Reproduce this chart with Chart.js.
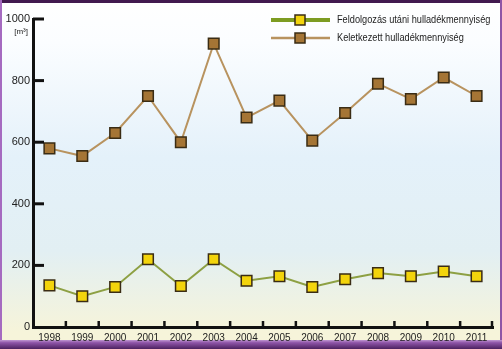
<!DOCTYPE html>
<html>
<head>
<meta charset="utf-8">
<script src="https://cdn.jsdelivr.net/npm/chart.js@4/dist/chart.umd.min.js"></script>
<style>
  html, body { margin: 0; padding: 0; background: #fff; }
  #wrap { width: 502px; height: 349px; position: relative; }
</style>
</head>
<body>
<div id="wrap"><canvas id="c" width="502" height="349"></canvas></div>
<script>
// yearly waste amounts, m3
var years = ['1998', '1999', '2000', '2001', '2002', '2003', '2004',
             '2005', '2006', '2007', '2008', '2009', '2010', '2011'];
var processed = [135, 100, 130, 220, 133, 220, 150, 165, 130, 155, 175, 165, 180, 165];
var generated = [580, 555, 630, 750, 600, 920, 680, 735, 605, 695, 790, 740, 810, 750];
var yTicks = [0, 200, 400, 600, 800, 1000];

var LABEL_PROCESSED = 'Feldolgozás utáni hulladékmennyiség';
var LABEL_GENERATED = 'Keletkezett hulladékmennyiség';

var GREEN = '#8da043', GREEN_LEG = '#7d9c22', YELLOW = '#f3d40c';
var TAN = '#b8935f', BROWN = '#a57535', EDGE = '#3a2c14';
var AXIS = '#111';

// background gradient + purple frame
var backdrop = {
  id: 'backdrop',
  beforeDraw: function (chart) {
    var ctx = chart.ctx, w = chart.width, h = chart.height;
    ctx.save();
    var g = ctx.createLinearGradient(0, 0, 0, h);
    g.addColorStop(0.0, '#ffffff');
    g.addColorStop(0.12, '#fbfdff');
    g.addColorStop(0.45, '#e4f1fa');
    g.addColorStop(0.72, '#e2eff3');
    g.addColorStop(0.95, '#f6f4da');
    ctx.fillStyle = g;
    ctx.fillRect(0, 0, w, h);

    ctx.fillStyle = '#42194f';
    ctx.fillRect(0, 0, w, 3);
    ctx.fillStyle = '#a56ac0';
    ctx.fillRect(0, 0, 2, h);
    ctx.fillStyle = '#8e55a6';
    ctx.fillRect(w - 2, 0, 2, h);
    var b = ctx.createLinearGradient(0, h - 9, 0, h);
    b.addColorStop(0, '#c198d2');
    b.addColorStop(0.3, '#8f55a8');
    b.addColorStop(1, '#4c2160');
    ctx.fillStyle = b;
    ctx.fillRect(0, h - 9, w, 9);
    ctx.restore();
  }
};

// inward tick marks, unit label and the line+marker legend
var decor = {
  id: 'decor',
  afterDraw: function (chart) {
    var ctx = chart.ctx, ca = chart.chartArea;
    var ys = chart.scales.y, xs = chart.scales.x;
    ctx.save();
    ctx.strokeStyle = AXIS;
    ctx.lineWidth = 3;
    yTicks.forEach(function (v) {
      if (v === 0) return;
      var py = ys.getPixelForValue(v);
      ctx.beginPath();
      ctx.moveTo(ca.left, py);
      ctx.lineTo(ca.left + 11, py);
      ctx.stroke();
    });
    ctx.lineWidth = 2.5;
    for (var i = 1; i <= years.length; i++) {
      var px = (xs.getPixelForValue(i - 1) + xs.getPixelForValue(i)) / 2;
      if (i === years.length) px = ca.right - 1;
      ctx.beginPath();
      ctx.moveTo(px, ca.bottom);
      ctx.lineTo(px, ca.bottom - 6);
      ctx.stroke();
    }

    ctx.fillStyle = '#222';
    ctx.font = '8px "Liberation Sans", Arial, sans-serif';
    ctx.textAlign = 'right';
    ctx.textBaseline = 'middle';
    ctx.fillText('[m³]', 28, 32);

    var rows = [
      { y: 20, line: GREEN_LEG, lw: 4, fill: YELLOW, text: LABEL_PROCESSED },
      { y: 38, line: TAN, lw: 2.5, fill: BROWN, text: LABEL_GENERATED }
    ];
    rows.forEach(function (r) {
      ctx.strokeStyle = r.line;
      ctx.lineWidth = r.lw;
      ctx.beginPath();
      ctx.moveTo(271, r.y);
      ctx.lineTo(330, r.y);
      ctx.stroke();
      ctx.fillStyle = r.fill;
      ctx.strokeStyle = EDGE;
      ctx.lineWidth = 1.5;
      ctx.fillRect(295, r.y - 5, 10, 10);
      ctx.strokeRect(295, r.y - 5, 10, 10);
      // condensed legend text
      ctx.save();
      ctx.translate(337, r.y);
      ctx.scale(0.92, 1);
      ctx.fillStyle = '#222';
      ctx.font = '10px "Liberation Sans", Arial, sans-serif';
      ctx.textAlign = 'left';
      ctx.fillText(r.text, 0, 0);
      ctx.restore();
    });
    ctx.restore();
  }
};

new Chart(document.getElementById('c'), {
  type: 'line',
  data: {
    labels: years,
    datasets: [{
      label: LABEL_PROCESSED,
      data: processed,
      borderColor: GREEN,
      borderWidth: 2,
      pointStyle: 'rect',
      pointRadius: 7.5,
      pointBackgroundColor: YELLOW,
      pointBorderColor: EDGE,
      pointBorderWidth: 1.5,
      tension: 0,
      clip: false
    }, {
      label: LABEL_GENERATED,
      data: generated,
      borderColor: TAN,
      borderWidth: 2,
      pointStyle: 'rect',
      pointRadius: 7.5,
      pointBackgroundColor: BROWN,
      pointBorderColor: EDGE,
      pointBorderWidth: 1.5,
      tension: 0,
      clip: false
    }]
  },
  options: {
    responsive: false,
    animation: false,
    events: [],
    layout: { padding: { top: 19, right: 2, left: 0, bottom: 0 } },
    plugins: { legend: { display: false }, tooltip: { enabled: false } },
    scales: {
      x: {
        offset: true,
        grid: { display: false, drawTicks: false },
        border: { display: true, color: AXIS, width: 3 },
        ticks: {
          color: '#222',
          padding: 5,
          maxRotation: 0,
          autoSkip: false,
          font: { family: '"Liberation Sans", Arial, sans-serif', size: 10 }
        },
        afterFit: function (s) { s.height = 22; }
      },
      y: {
        min: 0,
        max: 1000,
        grid: { display: false, drawTicks: false },
        border: { display: true, color: AXIS, width: 3 },
        afterBuildTicks: function (s) {
          s.ticks = yTicks.map(function (v) { return { value: v }; });
        },
        ticks: {
          color: '#222',
          padding: 3,
          font: { family: '"Liberation Sans", Arial, sans-serif', size: 11 },
          callback: function (v) { return String(v); }
        },
        afterFit: function (s) { s.width = 33; }
      }
    }
  },
  plugins: [backdrop, decor]
});
</script>
</body>
</html>
